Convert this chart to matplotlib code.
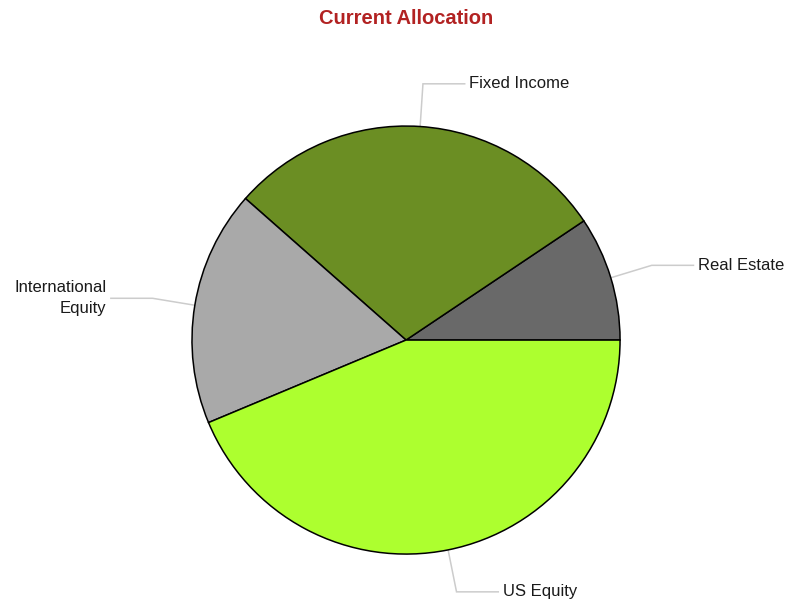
import matplotlib.pyplot as plt
import numpy as np

labels = ["Real Estate", "Fixed Income", "International\nEquity", "US Equity"]
values = [9.4, 29.1, 17.8, 43.7]
colors = ["#696969", "#6B8E23", "#A9A9A9", "#ADFF2F"]

plt.rcParams['font.family'] = ['Liberation Sans', 'DejaVu Sans']

fig = plt.figure(figsize=(7.87, 6.05), dpi=100)
ax = fig.add_axes([0, 0, 1, 1])

wedges, _ = ax.pie(values, colors=colors, startangle=0, counterclock=True,
                   radius=1.0, center=(0, 0), frame=True,
                   wedgeprops=dict(edgecolor='k', linewidth=1.1))
ax.axis('off')
ax.set_xlim(-1.897, 1.780)
ax.set_ylim(-1.238, 1.589)
ax.set_aspect('auto')

# leader lines: radial out to 1.2r, then a short horizontal run
for w, lbl in zip(wedges, labels):
    mid = np.deg2rad((w.theta1 + w.theta2) / 2)
    c, s = np.cos(mid), np.sin(mid)
    x0, y0 = c * 1.0, s * 1.0
    x1, y1 = c * 1.2, s * 1.2
    side = 1 if c >= 0 else -1
    x2 = x1 + side * 0.195
    ax.plot([x0, x1, x2], [y0, y1, y1], color='#cccccc', lw=1.1,
            solid_joinstyle='miter', zorder=0)
    ax.text(x2 + side * 0.022, y1, lbl, ha='left' if side > 0 else 'right',
            va='center', fontsize=12, color='#1a1a1a', linespacing=1.5)

fig.text(406 / 787, 1 - 18 / 605, "Current Allocation", ha='center', va='center',
         fontsize=14.5, fontweight='bold', color='#B22222')

fig.savefig('out.png', dpi=100)
